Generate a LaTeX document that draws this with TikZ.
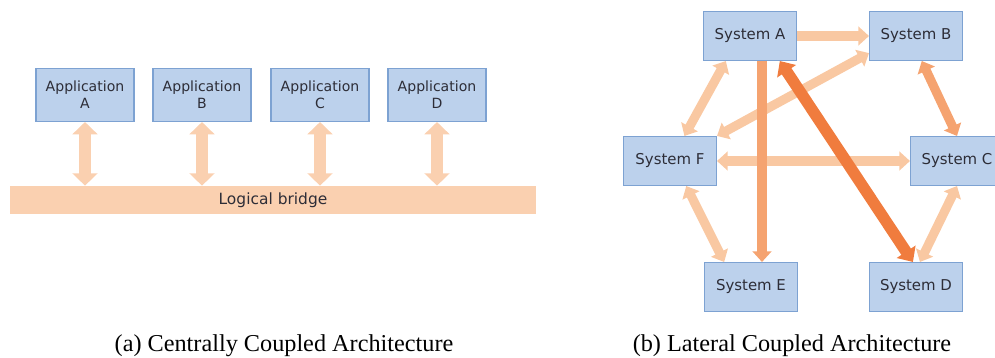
\documentclass[tikz,border=0pt]{standalone}
\usepackage{fontspec}
\setmainfont{Liberation Serif}
\newfontfamily\boxfont{DejaVu Sans}
\usetikzlibrary{arrows.meta}

\definecolor{boxfill}{RGB}{188,209,236}
\definecolor{boxline}{RGB}{125,162,210}
\definecolor{boxtext}{RGB}{45,45,55}
\definecolor{bridgefill}{RGB}{250,208,176}
\definecolor{lightorange}{RGB}{249,200,162}
\definecolor{midorange}{RGB}{245,163,112}
\definecolor{darkorange}{RGB}{240,124,62}

\tikzset{
  appbox/.style={draw=boxline, fill=boxfill, line width=0.6pt, minimum width=1.96cm,
    minimum height=1.06cm, align=center, text=boxtext, font=\boxfont\fontsize{8}{9.5}\selectfont},
  sysbox/.style={draw=boxline, fill=boxfill, line width=0.6pt, minimum width=1.86cm,
    minimum height=0.98cm, text=boxtext, font=\boxfont\fontsize{8.5}{10}\selectfont},
  busarrow/.style={draw=bridgefill, line width=7pt, >={Triangle[width=14pt,length=7pt]}},
  sysarrow/.style={draw=lightorange, line width=5.2pt, >={Triangle[width=10.5pt,length=6pt]}},
  caption/.style={font=\fontsize{13.8}{16}\selectfont}
}

\begin{document}
\begin{tikzpicture}[x=0.02cm, y=-0.02cm]
    \useasboundingbox (0,0) rectangle (995,358);
    \clip (0,0) rectangle (995,358);

    % Centrally coupled: the bridge and the applications on it
    \node[fill=bridgefill, minimum width=10.54cm, minimum height=0.56cm, text=boxtext,
      font=\boxfont\fontsize{8.8}{10}\selectfont] (bridge) at (273,200) {Logical bridge};
    \foreach \x/\n in {85/A,202/B,320/C,437/D} {
        \node[appbox] (app\n) at (\x,95) {Application\\\n};
        \draw[busarrow, <->] (app\n.south) -- (app\n.south |- bridge.north);
    }

    % Lateral coupled: the six systems
    \node[sysbox] (sysA) at (750,36) {System A};
    \node[sysbox] (sysB) at (916,36) {System B};
    \node[sysbox] (sysC) at (957,161) {System C};
    \node[sysbox] (sysD) at (916,287) {System D};
    \node[sysbox] (sysE) at (751,287) {System E};
    \node[sysbox] (sysF) at (670,161) {System F};

    % light links
    \draw[sysarrow, ->] (sysA.east) -- (sysB.west);
    \draw[sysarrow, <->] (sysB.200) -- (sysF.north east);
    \draw[sysarrow, <->] (sysA.226) -- (sysF.60);
    \draw[sysarrow, <->] (sysF.east) -- (sysC.west);
    \draw[sysarrow, <->] (sysF.303) -- (sysE.137);
    \draw[sysarrow, <->] (sysC.south) -- (sysD.81);

    % stronger links
    \draw[sysarrow, draw=midorange, <->] (sysB.283) -- (sysC.north);
    \draw[sysarrow, draw=midorange, ->] ([xshift=0.24cm]sysA.south) -- ([xshift=0.24cm]sysA.south |- sysE.north);
    \draw[sysarrow, draw=darkorange, line width=6.5pt, >={Triangle[width=12.5pt,length=7pt]}, <->]
      (sysA.320) -- (sysD.97);

    % captions
    \node[caption] (capA) at (284,346) {(a) Centrally Coupled Architecture};
    \node[caption] (capB) at (792,346) {(b) Lateral Coupled Architecture};
\end{tikzpicture}
\end{document}
